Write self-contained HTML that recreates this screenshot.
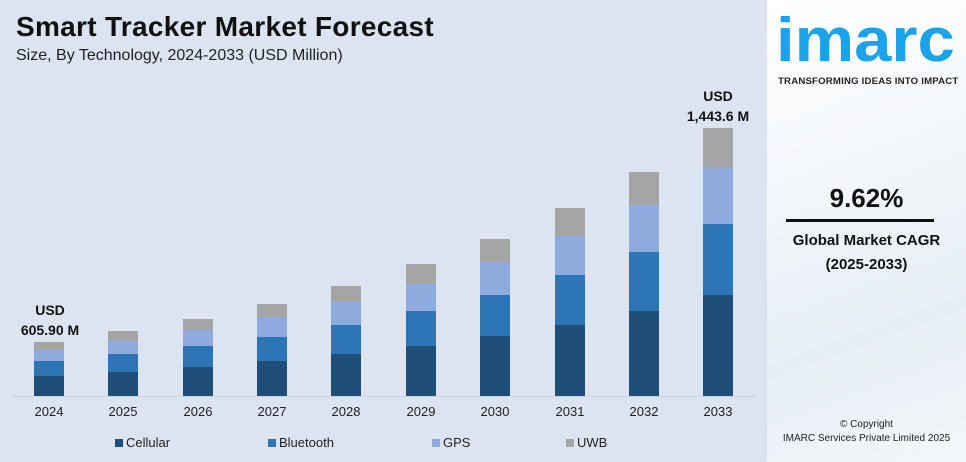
<!DOCTYPE html>
<html><head><meta charset="utf-8"><style>
body{margin:0;width:966px;height:462px;overflow:hidden;font-family:"Liberation Sans",sans-serif;position:relative;background:#dce4f1}
.a{position:absolute}
.b{position:absolute;width:30px}
.t{position:absolute;font-size:13px;color:#222;width:60px;text-align:center;top:404px}
.lg{position:absolute;top:435px;font-size:13px;color:#222}
.lg span{display:inline-block;width:8px;height:8px;margin-right:3px;vertical-align:0px}
</style></head><body>
<div class="a" style="left:16px;top:11px;font-size:28px;font-weight:bold;color:#111;letter-spacing:0.3px">Smart Tracker Market Forecast</div>
<div class="a" style="left:16px;top:47px;font-size:16px;color:#222">Size, By Technology, 2024-2033 (USD Million)</div>
<div class="a" style="left:12px;top:396px;width:743px;height:1px;background:#c8d0dc"></div>
<div id="bars"></div>
<div class="a" style="left:10px;top:300px;width:80px;text-align:center;font-size:14px;font-weight:bold;color:#111;line-height:20px">USD<br>605.90 M</div>
<div class="a" style="left:678px;top:86px;width:80px;text-align:center;font-size:14px;font-weight:bold;color:#111;line-height:20px">USD<br>1,443.6 M</div>
<div class="lg" style="left:115px"><span style="background:#1f4e79"></span>Cellular</div>
<div class="lg" style="left:268px"><span style="background:#2e75b6"></span>Bluetooth</div>
<div class="lg" style="left:432px"><span style="background:#8faadc"></span>GPS</div>
<div class="lg" style="left:566px"><span style="background:#a5a5a5"></span>UWB</div>
<div class="a" style="left:767px;top:0;width:199px;height:462px;background:linear-gradient(160deg,#ffffff 0%,#f2f6fa 40%,#e6eef5 70%,#f4f7fa 100%)"></div>
<div class="a" style="left:776px;top:10px;font-size:62px;font-weight:bold;color:#1aa3e8;line-height:62px;transform:scaleX(1.08);transform-origin:0 0">imarc</div>
<div class="a" style="left:778px;top:76px;font-size:9.6px;font-weight:bold;color:#222;letter-spacing:0.2px">TRANSFORMING IDEAS INTO IMPACT</div>
<div class="a" style="left:767px;top:183px;width:199px;text-align:center;font-size:26px;font-weight:bold;color:#111">9.62%</div>
<div class="a" style="left:786px;top:219px;width:148px;height:3px;background:#111"></div>
<div class="a" style="left:767px;top:232px;width:199px;text-align:center;font-size:15px;font-weight:bold;color:#111">Global Market CAGR</div>
<div class="a" style="left:767px;top:256px;width:199px;text-align:center;font-size:15px;font-weight:bold;color:#111">(2025-2033)</div>
<div class="a" style="left:767px;top:419px;width:199px;text-align:center;font-size:10px;color:#222">© Copyright</div>
<div class="a" style="left:767px;top:433px;width:199px;text-align:center;font-size:10px;color:#222">IMARC Services Private Limited 2025</div>
<script>
var d=[[34,342,350,361,376,2024],[108,331,341,354,372,2025],[183,319,330,346,367,2026],[257,304,317,337,361,2027],[331,286,302,325,354,2028],[406,264,284,311,346,2029],[480,239,262,295,336,2030],[555,208,236,275,325,2031],[629,172,205,252,311,2032],[703,128,168,224,295,2033]];
var c=["#a5a5a5","#8faadc","#2e75b6","#1f4e79"],h="";
d.forEach(function(r){for(var i=0;i<4;i++){var t=r[i+1],b=i<3?r[i+2]:396;h+='<div class="b" style="left:'+r[0]+'px;top:'+t+'px;height:'+(b-t)+'px;background:'+c[i]+'"></div>';}
h+='<div class="t" style="left:'+(r[0]-15)+'px">'+r[5]+'</div>';});
document.getElementById("bars").innerHTML=h;
</script>
</body></html>
